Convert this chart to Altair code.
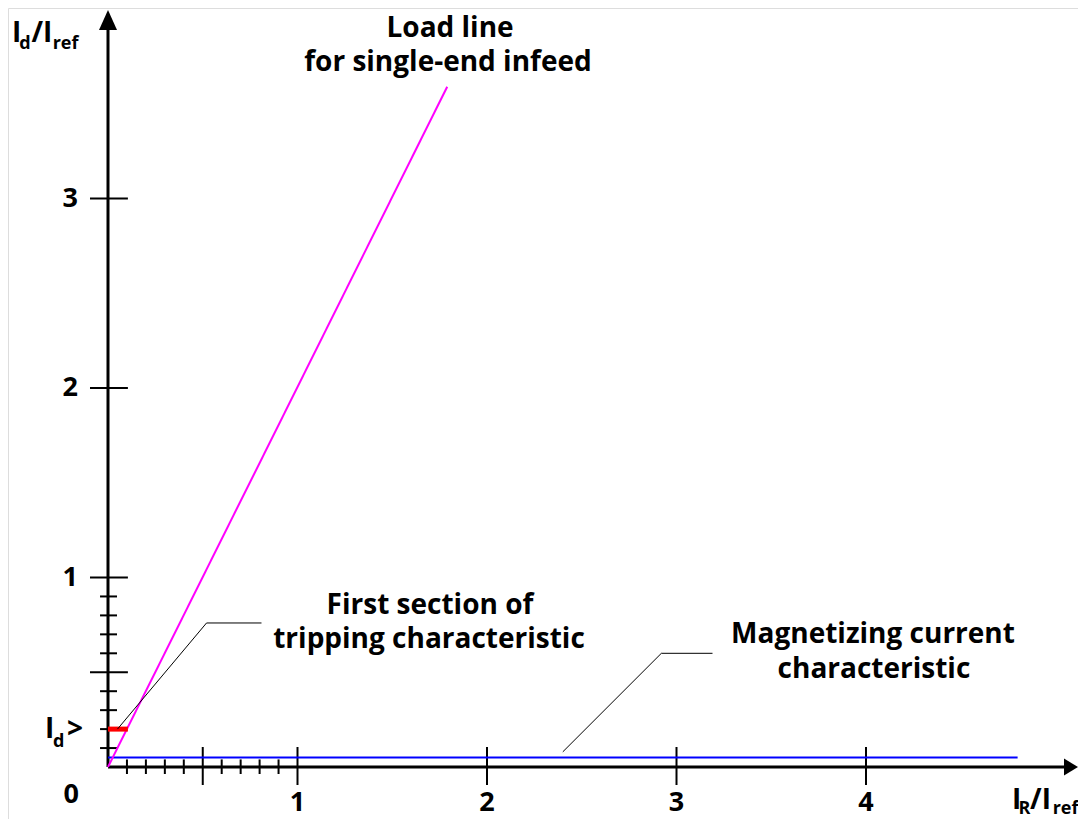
import altair as alt
import pandas as pd

# ---- data (in per-unit I/Iref) ----
load_x = [0.0, 1.79]
load_y = [0.0, 3.59]
mag_x = [0.0, 4.8]
mag_y = [0.05, 0.05]
trip_x = [0.0, 0.105]
trip_y = [0.2, 0.2]

x_major = [0.5, 1, 2, 3, 4]
x_minor = [0.1, 0.2, 0.3, 0.4, 0.6, 0.7, 0.8, 0.9]
y_major = [0.5, 1, 2, 3]
y_minor = [0.1, 0.2, 0.3, 0.4, 0.6, 0.7, 0.8, 0.9]
x_tick_labels = ["1", "2", "3", "4"]
x_tick_values = [1, 2, 3, 4]
y_tick_labels = ["1", "2", "3"]
y_tick_values = [1, 2, 3]

# leader lines (annotation callouts)
lead_id = ["a", "a", "a", "b", "b", "b"]
lead_x = [0.05, 0.52, 0.81, 2.40, 2.92, 3.19]
lead_y = [0.20, 0.76, 0.76, 0.08, 0.60, 0.60]

# annotation texts
ann_text = ["Load line", "for single-end infeed", "First section of",
            "tripping characteristic", "Magnetizing current", "characteristic"]
ann_x = [1.805, 1.794, 1.699, 1.694, 4.037, 4.042]
ann_y = [3.850, 3.672, 0.807, 0.628, 0.654, 0.470]

XDOM = [-0.5277, 5.1187]
YDOM = [-0.2744, 4.0053]
W, H = 1070, 811

xs = alt.Scale(domain=XDOM, nice=False, zero=False)
ys = alt.Scale(domain=YDOM, nice=False, zero=False)


def X(f="x"):
    return alt.X(f + ":Q", scale=xs, axis=None)


def Y(f="y"):
    return alt.Y(f + ":Q", scale=ys, axis=None)


layers = []

# axis lines
axes_df = pd.DataFrame({"x": [0, 0], "x2": [5.045, 0], "y": [0, 0], "y2": [0, 3.916]})
layers.append(alt.Chart(axes_df).mark_rule(color="black", strokeWidth=3).encode(
    x=X(), x2="x2:Q", y=Y(), y2="y2:Q"))

# ticks
tk = []
for v in x_major:
    tk.append(dict(x=v, x2=v, y=0.1055, y2=-0.095))
for v in x_minor:
    tk.append(dict(x=v, x2=v, y=0.04, y2=-0.037))
for v in y_major:
    tk.append(dict(x=-0.095, x2=0.105, y=v, y2=v))
for v in y_minor:
    tk.append(dict(x=-0.042, x2=0.0475, y=v, y2=v))
layers.append(alt.Chart(pd.DataFrame(tk)).mark_rule(color="black", strokeWidth=2).encode(
    x=X(), x2="x2:Q", y=Y(), y2="y2:Q"))

# arrows
arr_up = pd.DataFrame({"x": [0.0], "y": [3.942]})
layers.append(alt.Chart(arr_up).mark_point(
    shape="M 0 -1 L 0.9 1 L -0.9 1 Z", size=400, filled=True, color="black", opacity=1,
    strokeWidth=0).encode(x=X(), y=Y()))
arr_right = pd.DataFrame({"x": [5.0818], "y": [0.0]})
layers.append(alt.Chart(arr_right).mark_point(
    shape="M 0.875 0 L -0.875 1.05 L -0.875 -1.05 Z", size=256, filled=True, color="black",
    opacity=1, strokeWidth=0).encode(x=X(), y=Y()))

# curves
layers.append(alt.Chart(pd.DataFrame({"x": mag_x, "y": mag_y})).mark_line(
    color="#0000FF", strokeWidth=2).encode(x=X(), y=Y()))
layers.append(alt.Chart(pd.DataFrame({"x": load_x, "y": load_y})).mark_line(
    color="#FF00FF", strokeWidth=2).encode(x=X(), y=Y()))
layers.append(alt.Chart(pd.DataFrame({"x": trip_x, "y": trip_y})).mark_line(
    color="#FF0000", strokeWidth=5).encode(x=X(), y=Y()))

# leader lines
lead_df = pd.DataFrame({"id": lead_id, "x": lead_x, "y": lead_y, "o": list(range(len(lead_x)))})
layers.append(alt.Chart(lead_df).mark_line(color="black", strokeWidth=1).encode(
    x=X(), y=Y(), detail="id:N", order="o:Q"))

FONT = "Open Sans"

# annotations
ann_df = pd.DataFrame({"t": ann_text, "x": ann_x, "y": ann_y})
layers.append(alt.Chart(ann_df).mark_text(
    font=FONT, fontWeight="bold", fontSize=28, align="center", baseline="alphabetic",
    color="black").encode(x=X(), y=Y(), text="t:N"))

# tick labels
ylab = pd.DataFrame({"t": y_tick_labels + ["0"], "x": [-0.158] * 3 + [-0.153],
                     "y": y_tick_values + [-0.148]})
layers.append(alt.Chart(ylab).mark_text(
    font=FONT, fontWeight="bold", fontSize=27, align="right", baseline="middle",
    color="black").encode(x=X(), y=Y(), text="t:N"))
xlab = pd.DataFrame({"t": x_tick_labels, "x": x_tick_values, "y": [-0.19] * 4})
layers.append(alt.Chart(xlab).mark_text(
    font=FONT, fontWeight="bold", fontSize=27, align="center", baseline="middle",
    color="black").encode(x=X(), y=Y(), text="t:N"))

# axis titles / I_d> label (big parts and subscripts)
big = pd.DataFrame({
    "t": ["I", "/I", "I", ">", "I", "/I"],
    "x": [-0.507, -0.404, -0.332, -0.216, 4.770, 4.866],
    "y": [3.825, 3.825, 0.153, 0.153, -0.2216, -0.2216],
})
layers.append(alt.Chart(big).mark_text(
    font=FONT, fontWeight="bold", fontSize=28, align="left", baseline="alphabetic",
    color="black").encode(x=X(), y=Y(), text="t:N"))
small = pd.DataFrame({
    "t": ["d", "ref", "d", "R", "ref"],
    "x": [-0.468, -0.292, -0.290, 4.805, 4.985],
    "y": [3.79, 3.79, 0.108, -0.248, -0.248],
})
layers.append(alt.Chart(small).mark_text(
    font=FONT, fontWeight="bold", fontSize=18, align="left", baseline="alphabetic",
    color="black").encode(x=X(), y=Y(), text="t:N"))

chart = alt.layer(*layers).properties(
    width=W, height=H, padding=0, autosize=alt.AutoSizeParams(type="none")
).configure_view(strokeWidth=0, stroke="transparent").configure(background="white")

chart.save("out.html", embed_options={"renderer": "svg", "actions": False})
